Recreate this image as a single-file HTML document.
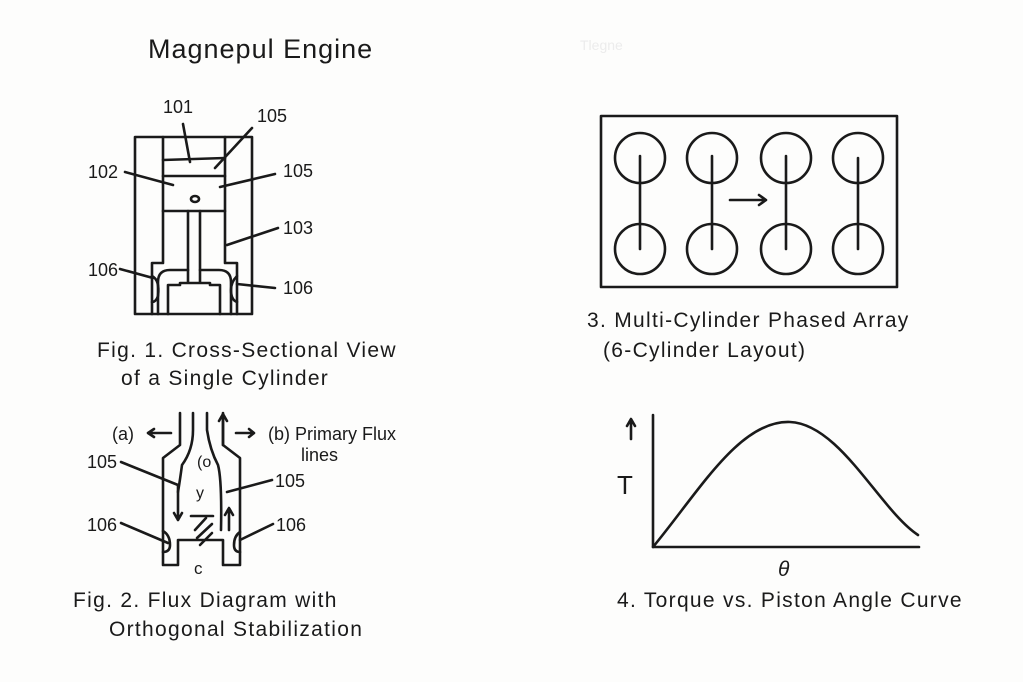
<!DOCTYPE html>
<html><head><meta charset="utf-8"><style>
html,body{margin:0;padding:0;background:#fff}
svg{display:block}
text{font-family:"Liberation Sans",sans-serif;fill:#1a1a1a}
</style></head><body>
<svg width="1023" height="682" viewBox="0 0 1023 682" xmlns="http://www.w3.org/2000/svg">
<rect width="1023" height="682" fill="#fdfdfc"/>
<g stroke="#1a1a1a" stroke-width="2.6" fill="none" stroke-linecap="round" stroke-linejoin="round">
<!-- Fig1 -->
<rect x="135" y="137" width="117" height="177"/>
<path d="M163 137 V263 H152 V314"/>
<path d="M225 137 V263 H237 V314"/>
<path d="M163 160 L225 158"/>
<path d="M163 176 H225"/>
<path d="M163 211 H225"/>
<ellipse cx="195" cy="199" rx="4" ry="3"/>
<path d="M188 211 V282"/><path d="M200 211 V282"/>
<path d="M158 314 V282 Q158 270 170 270 H188"/>
<path d="M231 314 V282 Q231 270 219 270 H200"/>
<path d="M168 314 V285 H180 V283 H210 V285 H220 V314"/>
<path d="M152 276 Q160 280 158 296 Q156 302 152 302"/>
<path d="M237 276 Q231 282 231 290 Q231 300 237 302"/>
<path d="M183 124 L190 162"/>
<path d="M252 128 L215 168"/>
<path d="M125 172 L173 185"/>
<path d="M275 174 L220 187"/>
<path d="M278 228 L227 245"/>
<path d="M120 269 L153 278"/>
<path d="M275 288 L237 284"/>
<!-- Fig2 -->
<path d="M180 413 V445 L163 458 V565 H178 V540 H223 V565 H240 V458 L223 445 V413"/>
<path d="M193 413 V430 Q193 450 182 465 Q180 480 178 492"/>
<path d="M207 413 V430 Q210 450 218 465 Q222 480 221 530"/>
<path d="M171 433 H148 M154 429 L148 433 L154 437"/>
<path d="M236 433 H254 M249 429 L254 433 L249 437"/>
<path d="M223 445 V415 M219 421 L223 414 L227 421"/>
<path d="M178 485 V520 M174 513 L178 520 L182 513"/>
<path d="M229 530 V508 M225 515 L229 508 L233 515"/>
<path d="M191 516 H213"/>
<path d="M195 530 L206 518 M197 538 L212 524 M200 545 L212 533"/>
<path d="M121 462 L178 485"/>
<path d="M272 480 L227 492"/>
<path d="M121 523 L168 543"/>
<path d="M273 524 L240 540"/>
<path d="M163 531 Q170 535 170 545 Q170 552 163 552"/>
<path d="M240 532 Q234 536 234 545 Q234 552 240 552"/>
<!-- Fig3 -->
<rect x="601" y="116" width="296" height="171"/>
<circle cx="640" cy="158" r="25"/><circle cx="712" cy="158" r="25"/><circle cx="786" cy="158" r="25"/><circle cx="858" cy="158" r="25"/>
<circle cx="640" cy="249" r="25"/><circle cx="712" cy="249" r="25"/><circle cx="786" cy="249" r="25"/><circle cx="858" cy="249" r="25"/>
<path d="M640 156 V249 M712 156 V249 M786 156 V249 M858 158 V249"/>
<path d="M730 200 H766 M759 195 L766 200 L759 205"/>
<!-- Fig4 -->
<path d="M653 415 V547 H919"/>
<path d="M653 547 C700 490 740 420 790 422 C840 424 880 510 918 535"/>
<path d="M631 439 V420 M627 426 L631 419 L635 426"/>
</g>
<text x="148" y="58" font-size="27" letter-spacing="1">Magnepul Engine</text>
<text x="580" y="50" font-size="14" style="fill:#ececec">Tlegne</text>
<g font-size="18">
<text x="163" y="113">101</text>
<text x="257" y="122">105</text>
<text x="88" y="178">102</text>
<text x="283" y="177">105</text>
<text x="283" y="234">103</text>
<text x="88" y="276">106</text>
<text x="283" y="294">106</text>
<text x="112" y="440">(a)</text>
<text x="268" y="440">(b) Primary Flux</text>
<text x="301" y="461">lines</text>
<text x="87" y="468">105</text>
<text x="275" y="487">105</text>
<text x="87" y="531">106</text>
<text x="276" y="531">106</text>
<text x="197" y="467" font-size="16">(o</text>
<text x="196" y="498" font-size="16">y</text>
<text x="194" y="574" font-size="17">c</text>
<text x="617" y="494" font-size="26">T</text>
<text x="778" y="576" font-size="21" font-style="italic">θ</text>
</g>
<g font-size="21" letter-spacing="1.3">
<text x="97" y="357">Fig. 1. Cross-Sectional View</text>
<text x="121" y="385">of a Single Cylinder</text>
<text x="73" y="607">Fig. 2. Flux Diagram with</text>
<text x="109" y="636">Orthogonal Stabilization</text>
<text x="587" y="327">3. Multi-Cylinder Phased Array</text>
<text x="603" y="357">(6-Cylinder Layout)</text>
<text x="617" y="607">4. Torque vs. Piston Angle Curve</text>
</g>
</svg>
</body></html>
